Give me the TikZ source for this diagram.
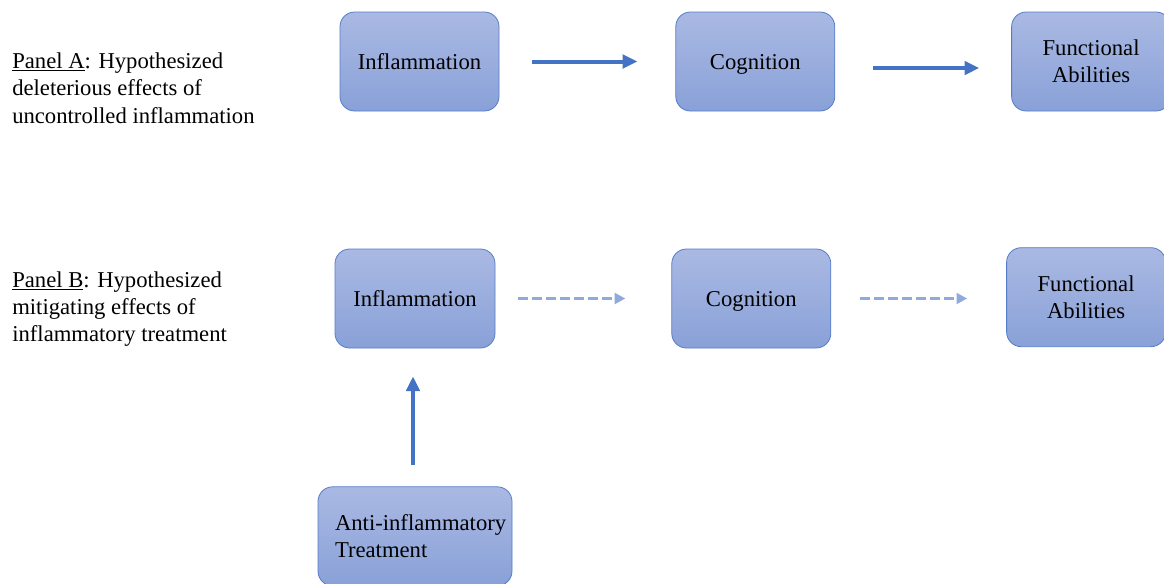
\documentclass[tikz,border=0pt]{standalone}
\usepackage{fontspec}
\setmainfont{LiberationSerif}[Extension=.ttf, UprightFont=*-Regular, BoldFont=*-Bold, ItalicFont=*-Italic]
\usetikzlibrary{arrows.meta,positioning}
\definecolor{boxtop}{RGB}{170,185,227}
\definecolor{boxbot}{RGB}{137,161,216}
\definecolor{boxline}{RGB}{84,124,200}
\definecolor{arblue}{RGB}{68,114,196}
\definecolor{dashblue}{RGB}{143,170,220}

\begin{document}
\begin{tikzpicture}[%
    x=0.75pt, y=-0.75pt,            % work in pixels of the layout
    >={Triangle[length=11pt,width=10pt]},
    node distance=132pt,            % gap between boxes in a row
    font=\fontsize{17}{20.5}\selectfont,
    ]
\tikzset{
  base/.style={draw=boxline, line width=0.6pt, rounded corners=11pt,
    top color=boxtop, bottom color=boxbot, align=center,
    minimum width=119.25pt, minimum height=74.25pt, inner sep=2pt},
  oneline/.style={base, text height=12pt, text depth=0pt},
  panel/.style={anchor=west, align=left, inner sep=0pt},
  ar/.style={->, arblue, line width=3pt},
  nar/.style={->, dashblue, line width=2.2pt, dash pattern=on 7.5pt off 3pt,
    >={Triangle[length=8pt,width=8pt]}}
}
\clip (0,0) rectangle (1164,583);
\useasboundingbox (0,0) rectangle (1164,583);

% Panel A
\node [panel] (panA) at (12,88) {\underline{Panel A}: Hypothesized\\deleterious effects of\\uncontrolled inflammation};
\node [oneline] (inflA) at (419.5,61.5) {Inflammation};
\node [oneline, right=of inflA] (cogA) {Cognition};
\node [base, right=of cogA] (funcA) {Functional\\Abilities};
    \draw [ar, shorten <=24.75pt, shorten >=28.5pt] (inflA.east) -- (cogA.west);
    \draw [ar, shorten <=28.5pt, shorten >=24pt] ([yshift=-4.9pt]cogA.east) -- ([yshift=-4.9pt]funcA.west);

% Panel B
\node [panel] (panB) at (12,309) {\underline{Panel B}: Hypothesized\\mitigating effects of\\inflammatory treatment};
\node [oneline, minimum width=120pt] (inflB) at (415,298.5) {Inflammation};
\node [oneline, right=of inflB] (cogB) {Cognition};
\node [base, right=131.25pt of cogB, yshift=1pt] (funcB) {Functional\\Abilities};
\node [base, below=103.5pt of inflB, minimum width=145.5pt, text width=120pt, align=flush left, inner xsep=0pt] (treat) {\mbox{Anti-inflammatory}\\Treatment};
    \draw [nar, shorten <=17.25pt, shorten >=34.5pt] (inflB.east) -- (cogB.west);
    \draw [nar, shorten <=21.75pt, shorten >=29.25pt] (cogB.east) -- ([yshift=-1pt]funcB.west);
    \draw [ar, shorten <=15.75pt, shorten >=21pt] ([xshift=-1.5pt]treat.north) -- ([xshift=-1.5pt]inflB.south);
\end{tikzpicture}
\end{document}
